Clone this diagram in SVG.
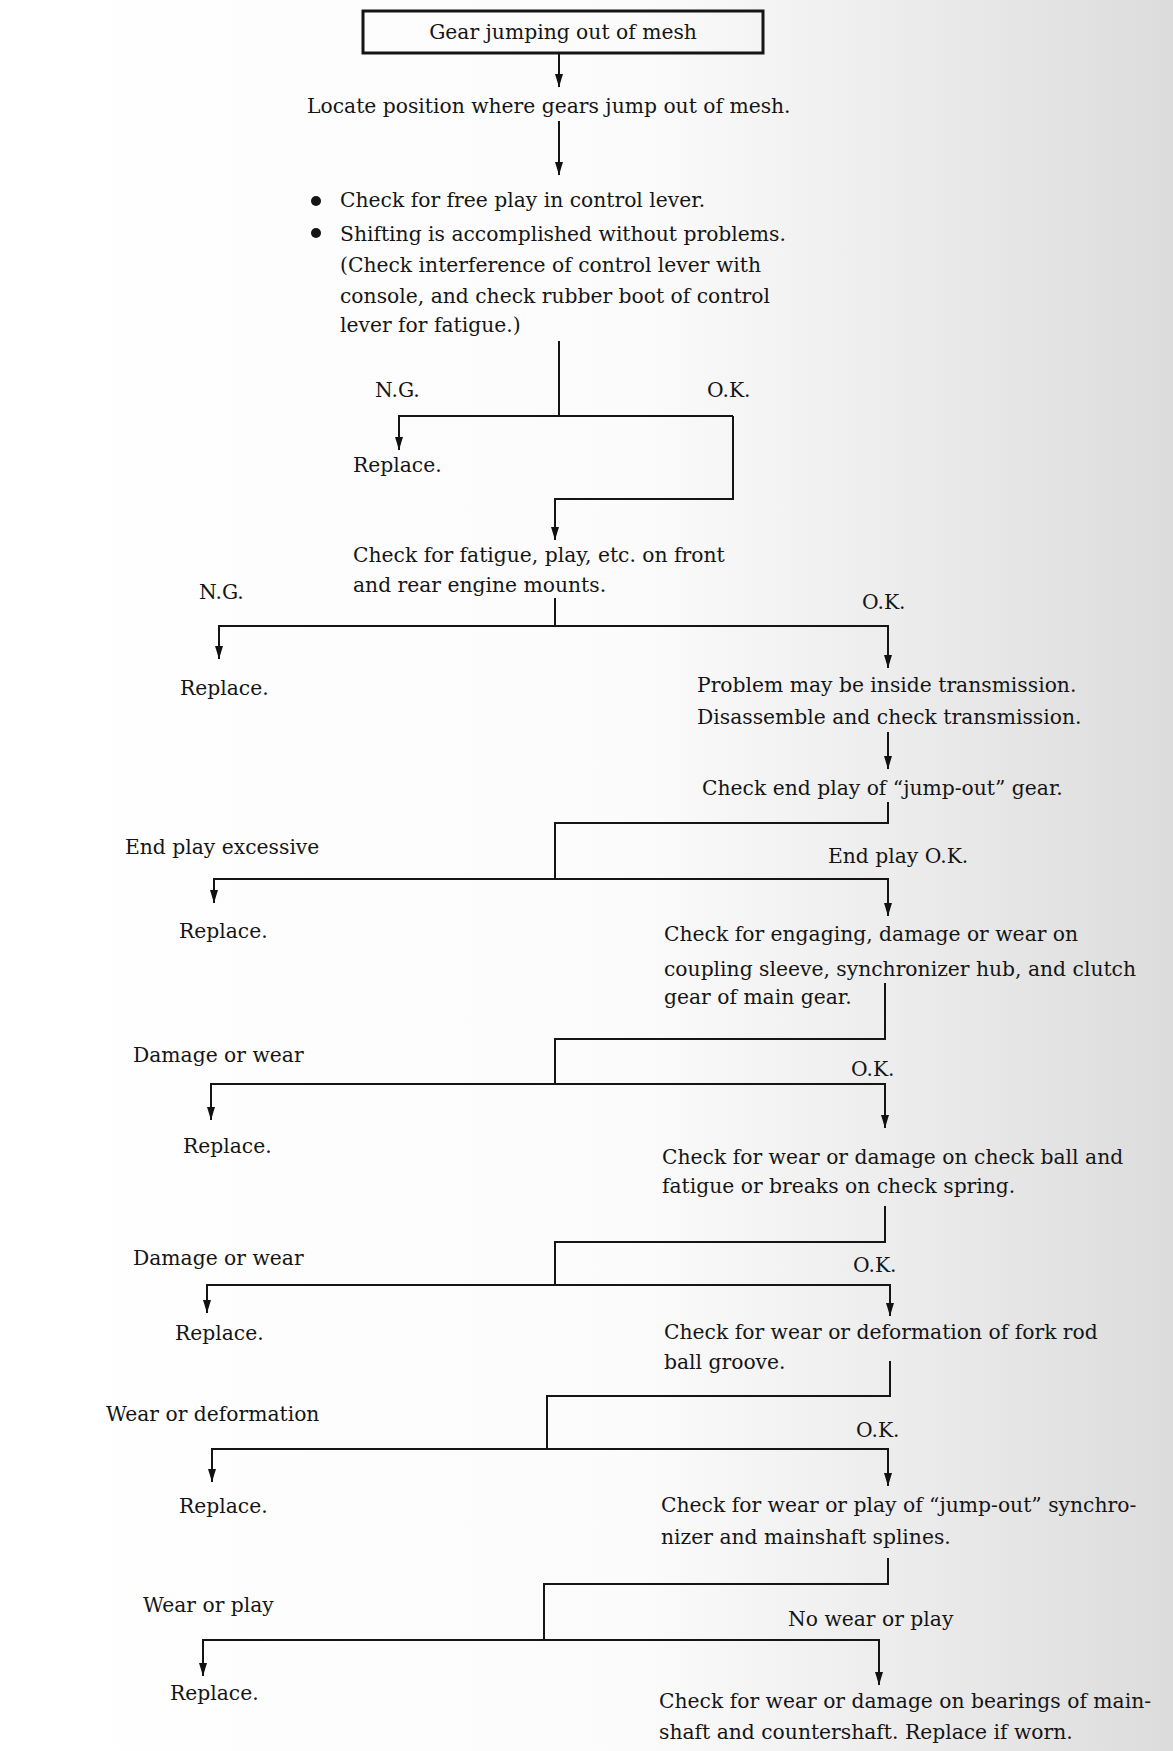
<svg xmlns="http://www.w3.org/2000/svg" width="1173" height="1751" viewBox="0 0 1173 1751">
<defs>
<linearGradient id="bg" x1="0" y1="0" x2="1" y2="0">
<stop offset="0" stop-color="#ffffff"/>
<stop offset="0.55" stop-color="#fbfbfb"/>
<stop offset="1" stop-color="#dcdcdc"/>
</linearGradient>
<marker id="ah" viewBox="0 0 13 8" refX="13" refY="4" markerWidth="13" markerHeight="8" markerUnits="userSpaceOnUse" orient="auto">
<path d="M0,0 L13,4 L0,8 z" fill="#111"/>
</marker>
<style>
text{font-family:"DejaVu Serif","Liberation Serif",serif;font-size:20.3px;fill:#151515}
.c{fill:none;stroke:#151515;stroke-width:2}
.a{marker-end:url(#ah)}
.box{fill:none;stroke:#151515;stroke-width:3}
</style>
</defs>
<rect x="0" y="0" width="1173" height="1751" fill="url(#bg)"/>

<g id="connectors">
<polyline class="c a" points="559,53 559,87"/>
<polyline class="c a" points="559,121 559,175"/>
<polyline class="c" points="559,341 559,416"/>
<polyline class="c a" points="733,416 399,416 399,450"/>
<polyline class="c a" points="733,416 733,499 555,499 555,540"/>
<polyline class="c" points="555,598 555,626"/>
<polyline class="c a" points="555,626 219,626 219,659"/>
<polyline class="c a" points="555,626 888,626 888,668"/>
<polyline class="c a" points="888,732 888,769"/>
<polyline class="c" points="888,802 888,823 555,823 555,879"/>
<polyline class="c a" points="555,879 214,879 214,903"/>
<polyline class="c a" points="555,879 888,879 888,916"/>
<polyline class="c" points="885,983 885,1039 555,1039 555,1084"/>
<polyline class="c a" points="555,1084 211,1084 211,1120"/>
<polyline class="c a" points="555,1084 885,1084 885,1128"/>
<polyline class="c" points="885,1206 885,1242 555,1242 555,1285"/>
<polyline class="c a" points="555,1285 207,1285 207,1313"/>
<polyline class="c a" points="555,1285 890,1285 890,1316"/>
<polyline class="c" points="890,1361 890,1396 547,1396 547,1449"/>
<polyline class="c a" points="547,1449 212,1449 212,1482"/>
<polyline class="c a" points="547,1449 888,1449 888,1486"/>
<polyline class="c" points="888,1558 888,1584 544,1584 544,1640"/>
<polyline class="c a" points="544,1640 203,1640 203,1676"/>
<polyline class="c a" points="544,1640 879,1640 879,1685"/>
</g>

<g id="labels">
<text x="375" y="397">N.G.</text>
<text x="707" y="397">O.K.</text>
<text x="199" y="599">N.G.</text>
<text x="862" y="609">O.K.</text>
<text x="125" y="854">End play excessive</text>
<text x="828" y="863">End play O.K.</text>
<text x="133" y="1062">Damage or wear</text>
<text x="851" y="1076">O.K.</text>
<text x="133" y="1265">Damage or wear</text>
<text x="853" y="1272">O.K.</text>
<text x="106" y="1421">Wear or deformation</text>
<text x="856" y="1437">O.K.</text>
<text x="143" y="1612">Wear or play</text>
<text x="788" y="1626">No wear or play</text>
</g>

<g id="n-start">
<rect class="box" x="363" y="11" width="400" height="42"/>
<text x="563" y="39" text-anchor="middle">Gear jumping out of mesh</text>
</g>

<g id="n-locate">
<text x="307" y="113">Locate position where gears jump out of mesh.</text>
</g>

<g id="n-lever">
<circle cx="316" cy="201" r="5" fill="#151515"/>
<circle cx="316" cy="233" r="5" fill="#151515"/>
<text x="340" y="207">Check for free play in control lever.</text>
<text x="340" y="241">Shifting is accomplished without problems.</text>
<text x="340" y="272">(Check interference of control lever with</text>
<text x="340" y="303">console, and check rubber boot of control</text>
<text x="340" y="332">lever for fatigue.)</text>
</g>

<g id="n-replace1"><text x="353" y="472">Replace.</text></g>

<g id="n-mounts">
<text x="353" y="562">Check for fatigue, play, etc. on front</text>
<text x="353" y="592">and rear engine mounts.</text>
</g>

<g id="n-replace2"><text x="180" y="695">Replace.</text></g>

<g id="n-inside">
<text x="697" y="692">Problem may be inside transmission.</text>
<text x="697" y="724">Disassemble and check transmission.</text>
</g>

<g id="n-endplay"><text x="702" y="795">Check end play of “jump-out” gear.</text></g>

<g id="n-replace3"><text x="179" y="938">Replace.</text></g>

<g id="n-sleeve">
<text x="664" y="941">Check for engaging, damage or wear on</text>
<text x="664" y="976">coupling sleeve, synchronizer hub, and clutch</text>
<text x="664" y="1004">gear of main gear.</text>
</g>

<g id="n-replace4"><text x="183" y="1153">Replace.</text></g>

<g id="n-ball">
<text x="662" y="1164">Check for wear or damage on check ball and</text>
<text x="662" y="1193">fatigue or breaks on check spring.</text>
</g>

<g id="n-replace5"><text x="175" y="1340">Replace.</text></g>

<g id="n-fork">
<text x="664" y="1339">Check for wear or deformation of fork rod</text>
<text x="664" y="1369">ball groove.</text>
</g>

<g id="n-replace6"><text x="179" y="1513">Replace.</text></g>

<g id="n-splines">
<text x="661" y="1512">Check for wear or play of “jump-out” synchro-</text>
<text x="661" y="1544">nizer and mainshaft splines.</text>
</g>

<g id="n-replace7"><text x="170" y="1700">Replace.</text></g>

<g id="n-bearings">
<text x="659" y="1708">Check for wear or damage on bearings of main-</text>
<text x="659" y="1739">shaft and countershaft. Replace if worn.</text>
</g>
</svg>
